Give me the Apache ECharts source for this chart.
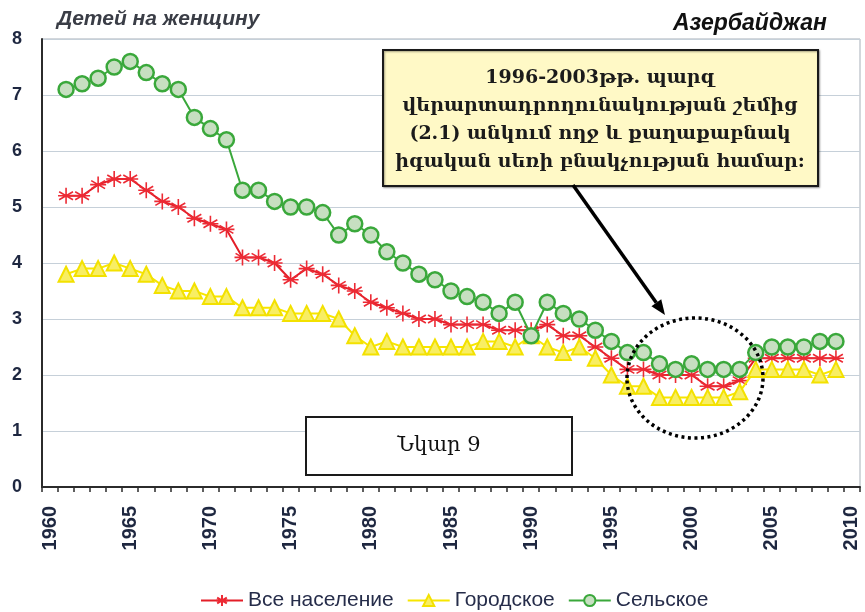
<!DOCTYPE html>
<html>
<head>
<meta charset="utf-8">
<script src="https://cdn.jsdelivr.net/npm/echarts@6/dist/echarts.min.js"></script>
<style>
html,body{margin:0;padding:0;background:#fff;}
#chart{width:865px;height:612px;}
</style>
</head>
<body>
<div id="chart"></div>
<script>
// Category axis (years) and tick labels
const axisYears = [];
for (let y = 1960; y <= 2010; y++) axisYears.push(String(y));
const dataYears = [1961,1962,1963,1964,1965,1966,1967,1968,1969,1970,
  1971,1972,1973,1974,1975,1976,1977,1978,1979,1980,
  1981,1982,1983,1984,1985,1986,1987,1988,1989,1990,
  1991,1992,1993,1994,1995,1996,1997,1998,1999,2000,
  2001,2002,2003,2004,2005,2006,2007,2008,2009];

const seriesNames = ['Все население', 'Городское', 'Сельское'];

const totalVals = [5.2,5.2,5.4,5.5,5.5,5.3,5.1,5.0,4.8,4.7,
  4.6,4.1,4.1,4.0,3.7,3.9,3.8,3.6,3.5,3.3,
  3.2,3.1,3.0,3.0,2.9,2.9,2.9,2.8,2.8,2.8,
  2.9,2.7,2.7,2.5,2.3,2.1,2.1,2.0,2.0,2.0,
  1.8,1.8,1.9,2.3,2.3,2.3,2.3,2.3,2.3];

const urbanVals = [3.8,3.9,3.9,4.0,3.9,3.8,3.6,3.5,3.5,3.4,
  3.4,3.2,3.2,3.2,3.1,3.1,3.1,3.0,2.7,2.5,
  2.6,2.5,2.5,2.5,2.5,2.5,2.6,2.6,2.5,2.7,
  2.5,2.4,2.5,2.3,2.0,1.8,1.8,1.6,1.6,1.6,
  1.6,1.6,1.7,2.1,2.1,2.1,2.1,2.0,2.1];

const ruralVals = [7.1,7.2,7.3,7.5,7.6,7.4,7.2,7.1,6.6,6.4,
  6.2,5.3,5.3,5.1,5.0,5.0,4.9,4.5,4.7,4.5,
  4.2,4.0,3.8,3.7,3.5,3.4,3.3,3.1,3.3,2.7,
  3.3,3.1,3.0,2.8,2.6,2.4,2.4,2.2,2.1,2.2,
  2.1,2.1,2.1,2.4,2.5,2.5,2.5,2.6,2.6];

const yTicks = [0,1,2,3,4,5,6,7,8];

const noteLines = [
  '1996-2003թթ. պարզ',
  'վերարտադրողունակության շեմից',
  '(2.1) անկում ողջ և քաղաքաբնակ',
  'իգական սեռի բնակչության համար:'
];

function pairs(vals){ return dataYears.map((y,i)=>[String(y), vals[i]]); }

const chart = echarts.init(document.getElementById('chart'), null, {renderer:'canvas'});

const sansFont = '"Liberation Sans", Arial, sans-serif';
const serifFont = '"DejaVu Serif", "Liberation Serif", serif';

// arrow geometry
const ax1 = 573, ay1 = 185, ax2 = 665, ay2 = 315;
const adx = ax2-ax1, ady = ay2-ay1, alen = Math.sqrt(adx*adx+ady*ady);
const ux = adx/alen, uy = ady/alen;
const bx = ax2 - 15*ux, by = ay2 - 15*uy;
const px = -uy*6, py = ux*6;

const option = {
  backgroundColor: '#ffffff',
  animation: false,
  title: [
    {text: 'Детей на женщину', left: 52, top: 4,
     textStyle: {fontFamily: sansFont, fontStyle: 'italic', fontWeight: 'bold', fontSize: 21, color: '#3a3d46'}},
    {text: 'Азербайджан', right: 33, top: 7,
     textStyle: {fontFamily: sansFont, fontStyle: 'italic', fontWeight: 'bold', fontSize: 23, color: '#111'}}
  ],
  grid: {left: 42, right: 5, top: 39, bottom: 125, show: true, borderColor: '#a7afb8', borderWidth: 1, containLabel: false},
  legend: {
    data: seriesNames,
    top: 585, left: 195,
    itemWidth: 42, itemHeight: 14, itemGap: 13,
    textStyle: {fontFamily: sansFont, fontSize: 21, color: '#262d4a'}
  },
  xAxis: {
    type: 'category',
    data: axisYears,
    boundaryGap: true,
    axisLine: {lineStyle: {color: '#2b2b2b', width: 2}},
    axisTick: {show: true, interval: 0, alignWithLabel: false, length: 5, lineStyle: {color: '#2b2b2b', width: 1.5}},
    axisLabel: {interval: 4, rotate: 90, margin: 19, fontFamily: sansFont, fontWeight: 'bold', fontSize: 20, color: '#1e2740'},
    splitLine: {show: false}
  },
  yAxis: {
    type: 'value',
    min: yTicks[0], max: yTicks[yTicks.length-1], interval: 1,
    axisLine: {show: true, lineStyle: {color: '#2b2b2b', width: 2}},
    axisTick: {show: false},
    axisLabel: {margin: 20, fontFamily: sansFont, fontWeight: 'bold', fontSize: 18, color: '#1e2740'},
    splitLine: {lineStyle: {color: '#c6d0d9', width: 1}}
  },
  series: [
    {
      name: seriesNames[0], type: 'line', data: pairs(totalVals),
      symbol: 'path://M0,-10L0,10M-8.66,-5L8.66,5M-8.66,5L8.66,-5M-10,0L10,0',
      symbolSize: 16, showAllSymbol: true,
      lineStyle: {color: '#e31e28', width: 2},
      itemStyle: {color: '#e31e28', borderColor: '#ec2a34', borderWidth: 1.6},
      z: 3
    },
    {
      name: seriesNames[1], type: 'line', data: pairs(urbanVals),
      symbol: 'triangle', symbolSize: 15, showAllSymbol: true,
      lineStyle: {color: '#f7e600', width: 2},
      itemStyle: {color: '#f8ee63', borderColor: '#f3e100', borderWidth: 2},
      z: 4
    },
    {
      name: seriesNames[2], type: 'line', data: pairs(ruralVals),
      symbol: 'circle', symbolSize: 15, showAllSymbol: true,
      lineStyle: {color: '#3aa83b', width: 2},
      itemStyle: {color: '#c7dfc1', borderColor: '#3aa83b', borderWidth: 2.5},
      z: 5
    }
  ],
  graphic: [
    {type: 'rect', z: 100, shape: {x: 383, y: 50, width: 435, height: 136},
     style: {fill: '#fff9c6', stroke: '#1a1a1a', lineWidth: 2, shadowBlur: 2, shadowColor: 'rgba(0,0,0,0.35)', shadowOffsetX: 1, shadowOffsetY: 1}},
    {type: 'text', z: 101, x: 600, y: 120,
     style: {text: noteLines.join('\n'), fill: '#1b1b1b', font: 'bold 19px ' + serifFont, textAlign: 'center', textVerticalAlign: 'middle', lineHeight: 28}},
    {type: 'line', z: 102, shape: {x1: ax1, y1: ay1, x2: bx, y2: by}, style: {stroke: '#000', lineWidth: 3.5}},
    {type: 'polygon', z: 102, shape: {points: [[ax2, ay2], [bx+px, by+py], [bx-px, by-py]]}, style: {fill: '#000'}},
    {type: 'ellipse', z: 102, shape: {cx: 695, cy: 378, rx: 68, ry: 60},
     style: {fill: 'none', stroke: '#000', lineWidth: 3.5, lineDash: [3, 3.5]}},
    {type: 'rect', z: 100, shape: {x: 306, y: 417, width: 266, height: 58},
     style: {fill: '#ffffff', stroke: '#1a1a1a', lineWidth: 2}},
    {type: 'text', z: 101, x: 439, y: 446,
     style: {text: 'Նկար 9', fill: '#111', font: '21px ' + serifFont, textAlign: 'center', textVerticalAlign: 'middle'}}
  ]
};
chart.setOption(option);
</script>
</body>
</html>
